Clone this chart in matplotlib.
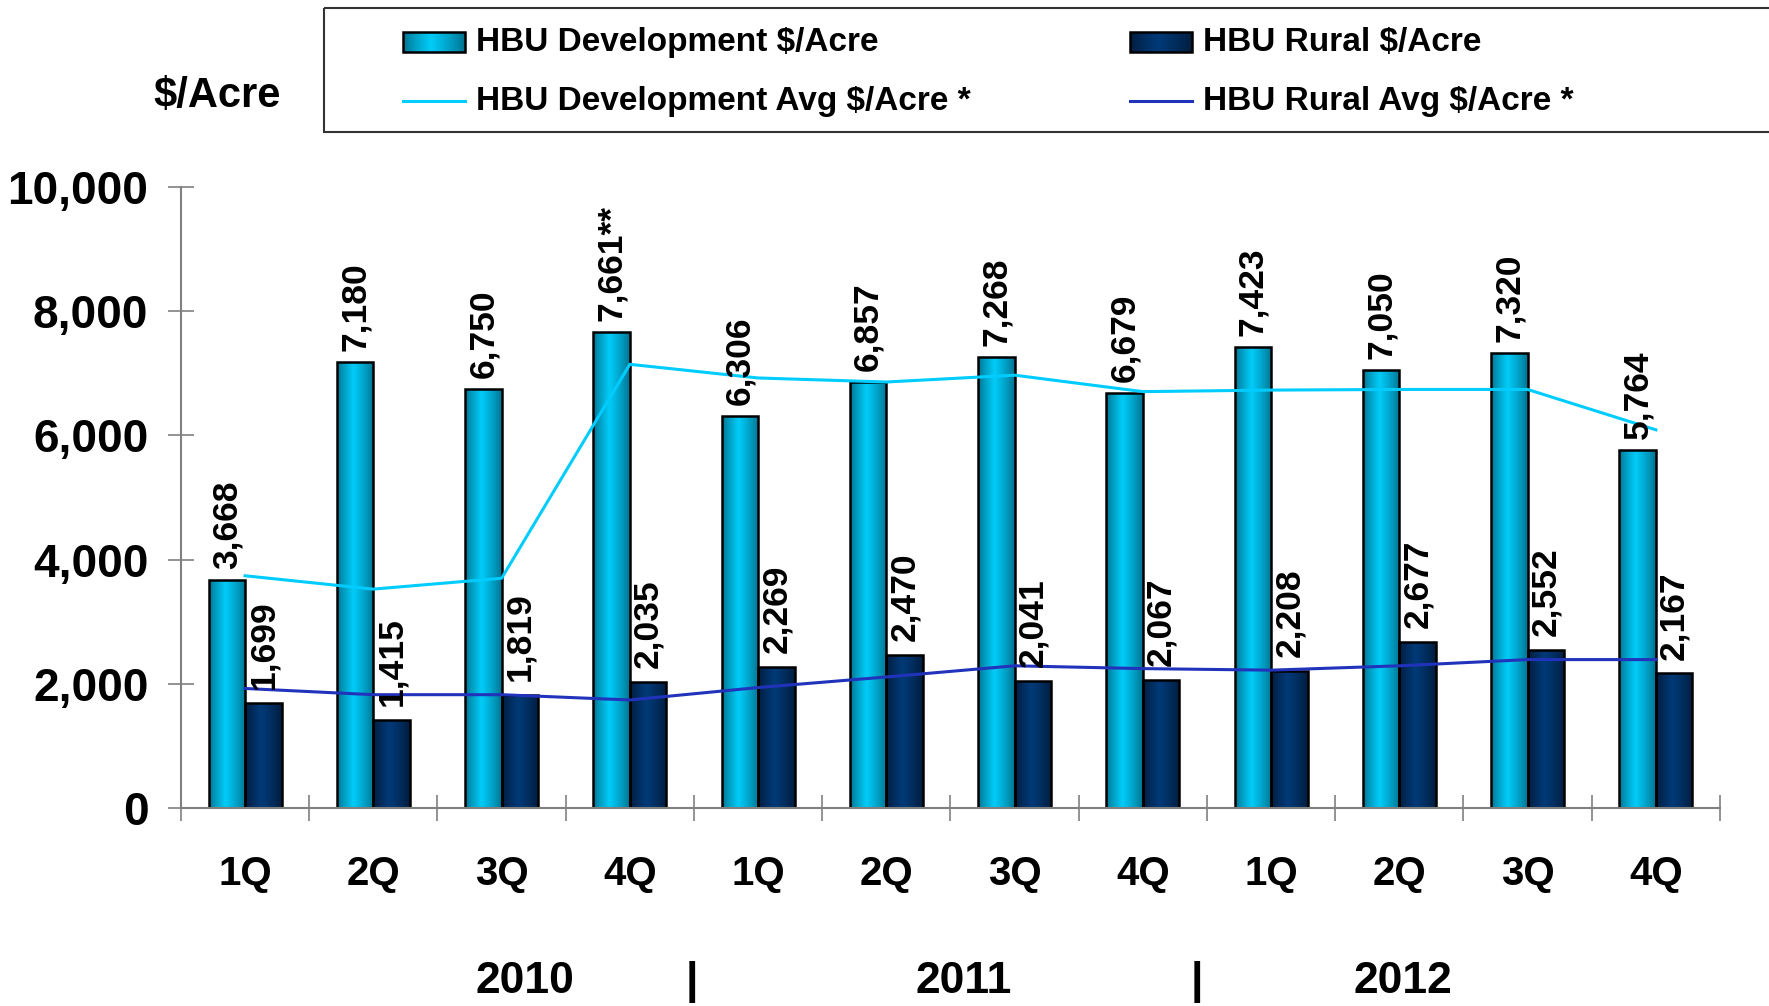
import numpy as np
import matplotlib.pyplot as plt
from matplotlib.colors import to_rgb
from matplotlib.patches import Rectangle
from matplotlib.transforms import blended_transform_factory

plt.rcParams['font.family'] = ['Liberation Sans', 'DejaVu Sans']
plt.rcParams['font.weight'] = 'bold'

quarters = ['1Q', '2Q', '3Q', '4Q'] * 3
years = ['2010', '2011', '2012']
year_pos = [2.18, 5.6, 9.03]
year_breaks = [3.48, 7.42]

dev = [3668, 7180, 6750, 7661, 6306, 6857, 7268, 6679, 7423, 7050, 7320, 5764]
rural = [1699, 1415, 1819, 2035, 2269, 2470, 2041, 2067, 2208, 2677, 2552, 2167]
dev_avg = [3740, 3525, 3700, 7145, 6925, 6860, 6970, 6705, 6730, 6740, 6740, 6090]
rural_avg = [1925, 1825, 1825, 1740, 1940, 2110, 2290, 2245, 2220, 2290, 2390, 2390]
dev_notes = ['', '', '', '**', '', '', '', '', '', '', '', '']

DEV_EDGE, DEV_MID = '#006f8c', '#00ccf8'
RUR_EDGE, RUR_MID = '#001c3c', '#003a78'
DEV_LINE, RUR_LINE = '#00ccff', '#2233bb'


def gradient(edge, mid, n=64, peak=0.45):
    t = np.linspace(0, 1, n)
    span = np.where(t < peak, peak, 1 - peak)
    w = np.clip(1 - np.abs(t - peak) / span, 0, 1) ** 0.8
    e, m = np.array(to_rgb(edge)), np.array(to_rgb(mid))
    return (e + (m - e) * w[:, None])[None, :, :]


def fill_bars(ax, bars, img):
    for b in bars:
        x, y = b.get_xy()
        im = ax.imshow(img, extent=[x, x + b.get_width(), y, y + b.get_height()],
                       aspect='auto', zorder=1, interpolation='bilinear')
        im.set_clip_path(b)


fig = plt.figure(figsize=(17.69, 10.06), dpi=100)
ax = fig.add_axes([0.1023, 0.1968, 0.870, 0.6173])

x = np.arange(len(dev))
w = 0.285
b1 = ax.bar(x - w / 2, dev, w, facecolor='none', edgecolor='black', lw=1.8, zorder=2)
b2 = ax.bar(x + w / 2, rural, w, facecolor='none', edgecolor='black', lw=1.8, zorder=2)
fill_bars(ax, b1, gradient(DEV_EDGE, DEV_MID))
fill_bars(ax, b2, gradient(RUR_EDGE, RUR_MID))

ax.plot(x, dev_avg, color=DEV_LINE, lw=2.2, zorder=3)
ax.plot(x, rural_avg, color=RUR_LINE, lw=2.2, zorder=3)

for i in range(len(dev)):
    ax.annotate(f'{dev[i]:,}{dev_notes[i]}', (x[i] - w / 2, dev[i]), xytext=(0, 8),
                textcoords='offset points', rotation=90, ha='center', va='bottom',
                fontsize=25.5, fontweight='bold', zorder=4)
    ax.annotate(f'{rural[i]:,}', (x[i] + w / 2, rural[i]), xytext=(0, 10),
                textcoords='offset points', rotation=90, ha='center', va='bottom',
                fontsize=25.5, fontweight='bold', zorder=4)

ax.set_xlim(-0.5, 11.5)
ax.set_ylim(0, 10000)
for s in ['top', 'right']:
    ax.spines[s].set_visible(False)
for s in ['left', 'bottom']:
    ax.spines[s].set_color('#808080')
    ax.spines[s].set_linewidth(1.5)

ax.set_yticks(range(0, 10001, 2000))
ax.set_yticklabels([f'{v:,}' for v in range(0, 10001, 2000)], fontsize=33, fontweight='bold')
ax.tick_params(axis='y', direction='inout', length=19, width=1.2, color='#808080', pad=14)

ax.set_xticks(x)
ax.set_xticklabels(quarters, fontsize=29, fontweight='bold')
ax.set_xticks(np.arange(-0.5, 12, 1), minor=True)
ax.tick_params(axis='x', which='major', length=0, pad=34)
ax.tick_params(axis='x', which='minor', direction='inout', length=19, width=1.2, color='#808080')

tr = blended_transform_factory(ax.transData, ax.transAxes)
for pos, yr in zip(year_pos, years):
    ax.text(pos, -0.28, yr, transform=tr, ha='center', va='center', fontsize=32, fontweight='bold')
for pos in year_breaks:
    ax.text(pos, -0.28, '|', transform=tr, ha='center', va='center', fontsize=32, fontweight='bold')

# legend and unit label, drawn in pixel coordinates
lay = fig.add_axes([0, 0, 1, 1], zorder=5)
lay.patch.set_alpha(0)
lay.axis('off')
lay.add_patch(Rectangle((324, 8), 1460, 124, fill=False, edgecolor='#333333', lw=1.5))
lay.text(217, 96, '$/Acre', ha='center', va='center', fontsize=30, fontweight='bold')

entries = [
    (403, 42, 'bar', (DEV_EDGE, DEV_MID), 'HBU Development $/Acre'),
    (1130, 42, 'bar', (RUR_EDGE, RUR_MID), 'HBU Rural $/Acre'),
    (403, 101, 'line', DEV_LINE, 'HBU Development Avg $/Acre *'),
    (1130, 101, 'line', RUR_LINE, 'HBU Rural Avg $/Acre *'),
]
for lx, ly, kind, col, label in entries:
    if kind == 'bar':
        r = Rectangle((lx, ly - 10), 62, 20, facecolor='none', edgecolor='black', lw=1.8)
        lay.add_patch(r)
        im = lay.imshow(gradient(*col), extent=[lx, lx + 62, ly + 10, ly - 10],
                        aspect='auto', interpolation='bilinear')
        im.set_clip_path(r)
    else:
        lay.plot([lx, lx + 62], [ly, ly], color=col, lw=2.2)
    lay.text(lx + 73, ly, label, ha='left', va='center', fontsize=24, fontweight='bold')

lay.set_xlim(0, 1769)
lay.set_ylim(1006, 0)

fig.savefig('out.png', dpi=100)
